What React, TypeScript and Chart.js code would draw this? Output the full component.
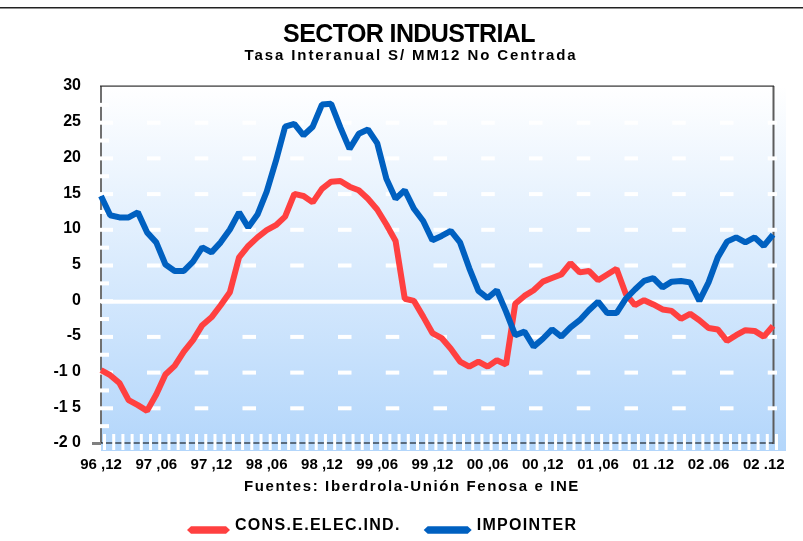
import { useEffect, useRef } from 'react';
import { Chart, registerables } from 'chart.js';

Chart.register(...registerables);

const FONT = '"Liberation Sans", Arial, sans-serif';

const titleText = 'SECTOR INDUSTRIAL';
const subtitleText = 'Tasa Interanual S/ MM12 No Centrada';
const sourceText = 'Fuentes: Iberdrola-Unión Fenosa e INE';

const xTickLabels = [
  '96 ,12', '97 ,06', '97 ,12', '98 ,06', '98 ,12', '99 ,06', '99 ,12',
  '00 ,06', '00 ,12', '01 ,06', '01 .12', '02 .06', '02 .12',
];

const yTickValues = [-20, -15, -10, -5, 0, 5, 10, 15, 20, 25, 30];
const yTickLabels = ['-2 0', '-1 5', '-1 0', '-5', '0', '5', '10', '15', '20', '25', '30'];

const seriesNames = ['CONS.E.ELEC.IND.', 'IMPOINTER'];

// Monthly values, Dec 1996 onwards
const consElecInd = [
  -9.8, -10.5, -11.6, -14.0, -14.7, -15.5, -13.2, -10.4, -9.2, -7.2,
  -5.6, -3.5, -2.4, -0.7, 1.1, 6.0, 7.6, 8.8, 9.8, 10.5,
  11.7, 14.9, 14.6, 13.7, 15.6, 16.6, 16.7, 15.9, 15.4, 14.2,
  12.7, 10.6, 8.3, 0.2, -0.1, -2.3, -4.6, -5.3, -6.8, -8.6,
  -9.3, -8.6, -9.3, -8.4, -9.0, -0.5, 0.6, 1.4, 2.6, 3.1,
  3.6, 5.2, 3.9, 4.1, 2.8, 3.6, 4.4, 0.9, -0.7, 0.0,
  -0.6, -1.3, -1.5, -2.6, -1.9, -2.8, -3.9, -4.1, -5.7, -4.9,
  -4.2, -4.3, -5.1, -3.6,
];

const impointer = [
  14.6, 11.9, 11.6, 11.6, 12.3, 9.5, 8.1, 5.0, 4.1, 4.1,
  5.4, 7.4, 6.7, 8.1, 9.9, 12.3, 10.2, 12.0, 15.2, 19.5,
  24.3, 24.7, 23.1, 24.3, 27.4, 27.5, 24.2, 21.2, 23.3, 23.9,
  22.0, 17.0, 14.2, 15.4, 12.8, 11.1, 8.4, 9.0, 9.7, 8.1,
  4.5, 1.3, 0.3, 1.4, -1.6, -4.9, -4.4, -6.5, -5.4, -4.1,
  -5.1, -3.8, -2.8, -1.4, -0.2, -1.8, -1.8, 0.2, 1.5, 2.7,
  3.1, 1.8, 2.6, 2.7, 2.5, -0.1, 2.5, 6.0, 8.2, 8.8,
  8.1, 8.8, 7.6, 9.2,
];

const categories = consElecInd.map((_, i) => (i % 6 === 0 ? xTickLabels[i / 6] ?? '' : ''));

const decorPlugin = {
  id: 'decor',
  beforeDatasetsDraw(chart: any) {
    const { ctx, chartArea: a, scales } = chart;
    const ys = scales.y;
    const xs = scales.x;
    ctx.save();
    // background gradient
    const g = ctx.createLinearGradient(0, a.top, 0, a.bottom + 8);
    g.addColorStop(0, '#ffffff');
    g.addColorStop(1, '#b3d6fb');
    ctx.fillStyle = g;
    ctx.fillRect(a.left, a.top, a.right - a.left + 13, a.bottom - a.top + 8);

    // left axis line
    ctx.fillStyle = '#707070';
    ctx.fillRect(a.left - 1, a.top, 2, a.bottom - a.top);
    // right border
    ctx.fillStyle = '#5c5c5c';
    ctx.fillRect(a.right - 0.5, a.top, 2, a.bottom - a.top + 1);
    // top border
    ctx.fillStyle = '#303030';
    ctx.fillRect(a.left - 1, a.top - 0.5, a.right - a.left + 2, 1.2);

    ctx.fillStyle = '#ffffff';
    // dashed white grid lines
    const period = 47.75;
    for (let v = -15; v <= 25; v += 5) {
      if (v === 0) continue;
      const yy = ys.getPixelForValue(v) + 1;
      for (let k = 0; k < 14; k++) {
        const x0 = a.left + 46 + k * period;
        const x1 = Math.min(x0 + 13.5, a.right + 4);
        if (x1 > x0) ctx.fillRect(x0, yy - 2, x1 - x0, 4);
      }
    }
    // left ticks (major + minor)
    for (let v = -17.5; v <= 27.5; v += 2.5) {
      const yy = ys.getPixelForValue(v) + 1;
      const w = v % 5 === 0 ? 13 : 9;
      ctx.fillRect(a.left - 1, yy - 2, w, 4);
    }
    // zero line
    const y0 = ys.getPixelForValue(0) + 1.5;
    ctx.fillRect(a.left, y0 - 2, a.right - a.left + 4, 4);

    // bottom axis line
    ctx.fillStyle = '#000000';
    ctx.fillRect(a.left, a.bottom - 0.5, a.right - a.left, 1);
    // white stripes at bottom
    ctx.fillStyle = '#ffffff';
    for (let i = 0; i < categories.length; i++) {
      const xp = xs.getPixelForValue(i);
      ctx.fillRect(xp + 2, a.bottom - 9, 3, 16);
    }
    // small gray tick at bottom-left
    ctx.fillStyle = '#808080';
    ctx.fillRect(a.left - 9, a.bottom - 1, 9, 3);
    ctx.restore();
  },
  afterDraw(chart: any) {
    const { ctx } = chart;
    ctx.save();
    // outer top line
    ctx.fillStyle = '#222222';
    ctx.fillRect(0, 7, chart.width, 1.5);

    ctx.fillStyle = '#000000';
    ctx.textBaseline = 'alphabetic';
    ctx.textAlign = 'center';
    ctx.font = `bold 25px ${FONT}`;
    (ctx as any).letterSpacing = '-0.6px';
    ctx.fillText(titleText, 409, 41.5);

    ctx.font = `bold 15px ${FONT}`;
    (ctx as any).letterSpacing = '1.9px';
    ctx.fillText(subtitleText, 411, 60);

    (ctx as any).letterSpacing = '1.6px';
    ctx.fillText(sourceText, 412, 491);

    // legend
    ctx.textAlign = 'left';
    ctx.font = `bold 16px ${FONT}`;
    (ctx as any).letterSpacing = '1.3px';
    const yc = 530;
    let x = 187;
    chart.data.datasets.forEach((ds: any, idx: number) => {
      const w = idx === 0 ? 43 : 48;
      ctx.fillStyle = ds.borderColor;
      ctx.beginPath();
      ctx.moveTo(x, yc);
      ctx.lineTo(x + 4, yc - 3.8);
      ctx.lineTo(x + w - 4, yc - 3.8);
      ctx.lineTo(x + w, yc);
      ctx.lineTo(x + w - 4, yc + 3.8);
      ctx.lineTo(x + 4, yc + 3.8);
      ctx.closePath();
      ctx.fill();
      ctx.fillStyle = '#000000';
      const tx = x + w + 5;
      ctx.fillText(ds.label, tx, yc);
      x = tx + ctx.measureText(ds.label).width + 23;
    });
    ctx.restore();
  },
};

export default function App() {
  const canvasRef = useRef<HTMLCanvasElement | null>(null);

  useEffect(() => {
    if (!canvasRef.current) return;
    const labelFor = (v: number) => {
      const idx = yTickValues.indexOf(v);
      return idx >= 0 ? yTickLabels[idx] : '';
    };
    const chart = new Chart(canvasRef.current, {
      type: 'line',
      data: {
        labels: categories,
        datasets: [
          {
            label: seriesNames[0],
            data: consElecInd,
            borderColor: '#ff4040',
            backgroundColor: '#ff4040',
            borderWidth: 6,
            pointRadius: 0,
            tension: 0,
            borderJoinStyle: 'bevel',
            order: 1,
          },
          {
            label: seriesNames[1],
            data: impointer,
            borderColor: '#0060c0',
            backgroundColor: '#0060c0',
            borderWidth: 6,
            pointRadius: 0,
            tension: 0,
            borderJoinStyle: 'bevel',
            order: 0,
          },
        ],
      },
      options: {
        animation: false,
        responsive: true,
        maintainAspectRatio: false,
        layout: { padding: { left: 0, right: 30, top: 86, bottom: 0 } },
        plugins: {
          legend: { display: false },
          title: { display: false },
          tooltip: { enabled: false },
        },
        scales: {
          x: {
            type: 'category',
            grid: { display: false, drawTicks: false },
            border: { display: false },
            ticks: {
              autoSkip: false,
              maxRotation: 0,
              minRotation: 0,
              padding: 13,
              color: '#000000',
              font: { family: FONT, size: 15, weight: 'bold' },
            },
            afterFit: (s: any) => {
              s.height = 98;
            },
          },
          y: {
            type: 'linear',
            min: -20,
            max: 30,
            grid: { display: false, drawTicks: false },
            border: { display: false },
            ticks: {
              stepSize: 5,
              padding: 20,
              color: '#000000',
              font: { family: FONT, size: 16, weight: 'bold' },
              callback: (v: any) => labelFor(Number(v)),
            },
            afterFit: (s: any) => {
              s.width = 101;
            },
          },
        },
      } as any,
      plugins: [decorPlugin],
    });
    return () => chart.destroy();
  }, []);

  return (
    <div style={{ position: 'fixed', left: 0, top: 0, width: 803, height: 541, background: '#ffffff' }}>
      <canvas ref={canvasRef} />
    </div>
  );
}
